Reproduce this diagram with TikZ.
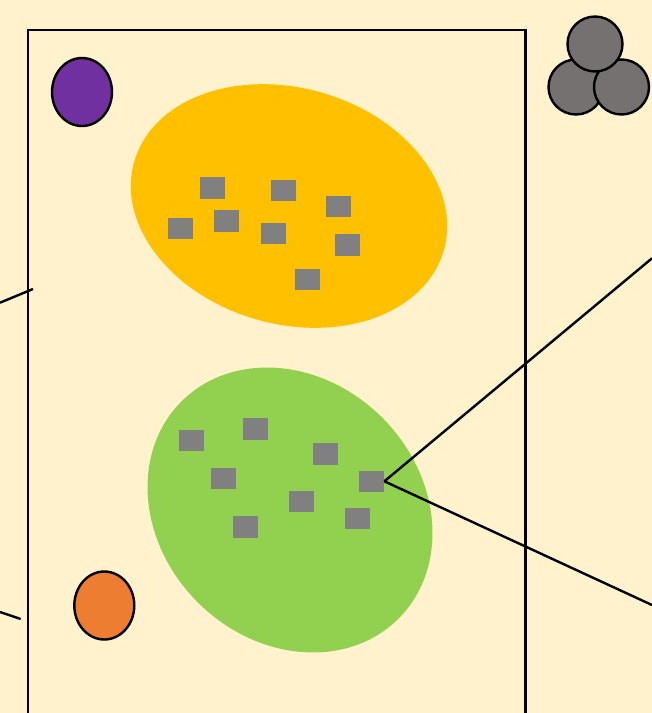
\documentclass[tikz,border=0pt]{standalone}
\usepackage{tikz}
\usepackage{xcolor}
\usetikzlibrary{shapes.geometric}
\definecolor{cream}{HTML}{FFF2CC}
\definecolor{amber}{HTML}{FFC000}
\definecolor{leaf}{HTML}{92D050}
\definecolor{plum}{HTML}{7030A0}
\definecolor{rust}{HTML}{ED7D31}
\definecolor{chip}{HTML}{808080}
\definecolor{stone}{HTML}{767171}

\begin{document}
\begin{tikzpicture}[
  x=1pt, y=-1pt,
  blob/.style={ellipse, inner sep=0pt, draw=none},
  chipbox/.style={fill=chip, minimum width=25pt, minimum height=21.5pt, inner sep=0pt},
  ball/.style={circle, draw, line width=2.4pt, fill=stone, minimum size=55pt, inner sep=0pt},
  egg/.style={ellipse, draw, line width=2.4pt, minimum width=60pt, minimum height=68pt, inner sep=0pt},
  wire/.style={line width=2.4pt}
]
\useasboundingbox (0,0) rectangle (652,713);
\clip (0,0) rectangle (652,713);
\fill[cream] (0,0) rectangle (652,713);

\draw[wire] (28,30) rectangle (525.5,740);

\node[egg, fill=plum] (pu) at (82,92) {};
\node[egg, fill=rust] (or) at (104.3,605.5) {};

\node[ball] (bl) at (576,87) {};
\node[ball] (br) at (621.5,87) {};
\node[ball] (bt) at (595,44) {};

\node[blob, fill=amber, minimum width=322pt, minimum height=236pt, rotate=-16] (yel) at (289,206) {};
\node[blob, fill=leaf, minimum width=307pt, minimum height=261pt, rotate=-45] (grn) at (290,510) {};

\node[chipbox] (y1) at (212,188) {};
\node[chipbox] (y2) at (283.3,190.5) {};
\node[chipbox] (y3) at (338,206.7) {};
\node[chipbox] (y4) at (226.7,221) {};
\node[chipbox] (y5) at (180.2,228.5) {};
\node[chipbox] (y6) at (273.3,233.7) {};
\node[chipbox] (y7) at (347.5,245) {};
\node[chipbox] (y8) at (307.3,279.7) {};

\node[chipbox] (g1) at (191.5,440.3) {};
\node[chipbox] (g2) at (255.8,428.8) {};
\node[chipbox] (g3) at (325.8,453.8) {};
\node[chipbox] (g4) at (223.2,478.3) {};
\node[chipbox] (g5) at (371.7,481.3) {};
\node[chipbox] (g6) at (301.2,501.3) {};
\node[chipbox] (g7) at (357,518.3) {};
\node[chipbox] (g8) at (245.8,526.8) {};

\coordinate (ua) at (0,302.7);
\coordinate (ub) at (33,289);
\coordinate (la) at (0,612);
\coordinate (lb) at (20.7,619);
\coordinate (ru) at (652,258.3);
\coordinate (rl) at (652,605);

\draw[wire] (ua) -- (ub);
\draw[wire] (la) -- (lb);
\draw[wire] (g5.east) -- (ru);
\draw[wire] (g5.east) -- (rl);
\end{tikzpicture}
\end{document}
